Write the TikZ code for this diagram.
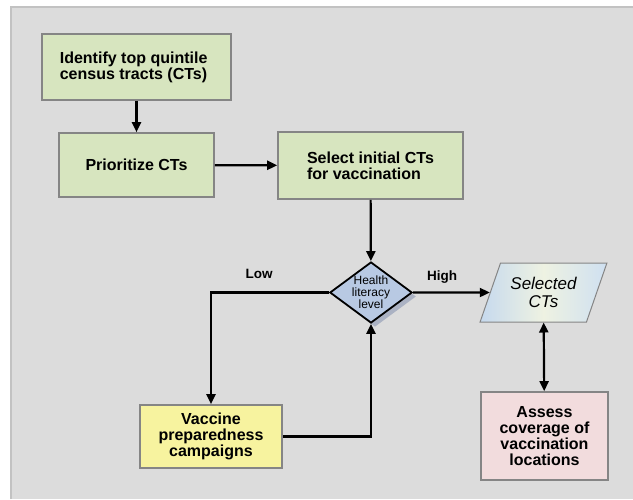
\documentclass[tikz,border=0pt]{standalone}
\usepackage{fontspec}
\setmainfont{Liberation Sans}
\usetikzlibrary{shapes.geometric,arrows.meta,shadows}
\definecolor{panelgray}{HTML}{DCDCDC}
\definecolor{paneledge}{HTML}{C2C2C2}
\definecolor{boxedge}{HTML}{858585}
\definecolor{stepgreen}{HTML}{D7E5BF}
\definecolor{stepyellow}{HTML}{F7F39F}
\definecolor{steppink}{HTML}{F2DCDD}
\definecolor{decblue}{HTML}{B8C9E3}
\definecolor{decshadow}{HTML}{ABB2C3}
\definecolor{dataleft}{HTML}{C6D9EE}
\definecolor{dataright}{HTML}{CFE0F1}
\definecolor{datamid}{HTML}{EEF2E2}
\begin{document}
\begin{tikzpicture}[x=1pt,y=-1pt,
  stepbox/.style={draw=boxedge, line width=1.6pt, inner sep=0pt,
    font=\fontsize{16}{16}\selectfont\bfseries},
  decision/.style={diamond, draw, line width=1.8pt, fill=decblue, inner sep=0pt,
    aspect=1.35, align=center, font=\fontsize{12}{12}\selectfont,
    drop shadow={shadow xshift=4pt, shadow yshift=-4pt, fill=decshadow, opacity=1}},
  datanode/.style={trapezium, trapezium left angle=65, trapezium right angle=115,
    trapezium stretches=true, draw=boxedge, line width=1pt, align=center,
    left color=dataleft, right color=dataright, middle color=datamid,
    font=\fontsize{17}{18}\selectfont\itshape},
  branch/.style={font=\fontsize{13.5}{14}\selectfont\bfseries},
  flow/.style={line width=2.2pt, ->, >={Triangle[length=10pt,width=9pt]}}]
\useasboundingbox (0,0) rectangle (633,499);
% background panel
\fill[panelgray] (11,7) rectangle (633,499);
\draw[paneledge, line width=1.5pt] (11,499) -- (11,7) -- (633,7);

% steps
\node[stepbox, fill=stepgreen, align=left, minimum width=189pt, minimum height=66pt] (ident) at (136.5,67) {Identify top quintile\\census tracts (CTs)\hspace*{6pt}};
\node[stepbox, fill=stepgreen, align=center, minimum width=155pt, minimum height=64pt] (prior) at (136.5,165) {Prioritize CTs};
\node[stepbox, fill=stepgreen, align=left, minimum width=185pt, minimum height=67pt] (select) at (370.5,165.5) {Select initial CTs\\ for vaccination};
\node[decision, minimum width=82pt, minimum height=61pt] (health) at (371,292.5) {Health\\literacy\\level};
\node[datanode, minimum width=127pt, minimum height=59pt] (selcts) at (543.5,292.5) {Selected\\CTs};
\node[stepbox, fill=stepyellow, align=center, minimum width=142pt, minimum height=63pt] (vacc) at (211,436.5) {Vaccine\\preparedness\\campaigns};
\node[stepbox, fill=steppink, align=center, minimum width=127pt, minimum height=88pt] (assess) at (544.5,436) {Assess\\coverage of\\vaccination\\locations};

% branch labels
\node[branch] (lowlbl) at (259,274) {Low};
\node[branch] (highlbl) at (442,277) {High};

% connectors
\draw[flow](ident) -- (prior);
\draw[flow](prior) -- (select);
\draw[flow](select) -- (health);
\draw[flow](health) -- (selcts);
\draw[flow,<->](selcts) -- (assess);
\draw[flow](health.west) -| (vacc.north);
\draw[flow](vacc.east) -| (health.south);
\end{tikzpicture}
\end{document}
